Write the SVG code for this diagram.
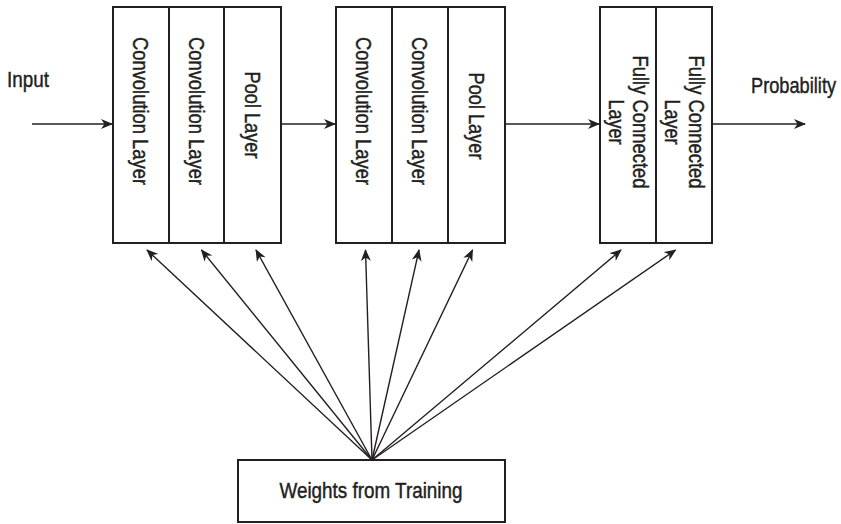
<svg xmlns="http://www.w3.org/2000/svg" width="841" height="524" viewBox="0 0 841 524">
  <style>
    .box { fill: #ffffff; stroke: #231f20; stroke-width: 2; }
    .div { stroke: #231f20; stroke-width: 2; }
    .lbl { font-family: "Liberation Sans Narrow", "Liberation Sans", Arial, sans-serif; font-size: 22.5px; fill: #231f20; stroke: #231f20; stroke-width: 0.45; }
    .mid { text-anchor: middle; }
    .edge { fill: none; stroke: #231f20; stroke-width: 1.4; marker-end: url(#arrow); }
  </style>
  <defs>
    <marker id="arrow" viewBox="0 0 12 10" refX="11" refY="5" markerWidth="12" markerHeight="10" markerUnits="userSpaceOnUse" orient="auto">
      <path d="M0,0 L12,5 L0,10 L3.5,5 z" fill="#231f20"/>
    </marker>
  </defs>

  <rect width="841" height="524" fill="#ffffff"/>

  <!-- free labels -->
  <g id="input-label">
    <text class="lbl" x="7" y="87" textLength="42" lengthAdjust="spacingAndGlyphs">Input</text>
  </g>
  <g id="output-label">
    <text class="lbl" transform="translate(751,93) scale(0.81,1)">Probability</text>
  </g>

  <!-- first convolution block -->
  <g id="block1">
    <rect class="box" x="113" y="7" width="168" height="236"/>
    <line class="div" x1="169" y1="7" x2="169" y2="243"/>
    <line class="div" x1="224" y1="7" x2="224" y2="243"/>
    <text class="lbl mid" transform="translate(133,111) rotate(90)" textLength="148" lengthAdjust="spacingAndGlyphs">Convolution Layer</text>
    <text class="lbl mid" transform="translate(189,111) rotate(90)" textLength="148" lengthAdjust="spacingAndGlyphs">Convolution Layer</text>
    <text class="lbl mid" transform="translate(245,115) rotate(90)" textLength="87" lengthAdjust="spacingAndGlyphs">Pool Layer</text>
  </g>

  <!-- second convolution block -->
  <g id="block2">
    <rect class="box" x="336" y="7" width="169" height="236"/>
    <line class="div" x1="392" y1="7" x2="392" y2="243"/>
    <line class="div" x1="448" y1="7" x2="448" y2="243"/>
    <text class="lbl mid" transform="translate(356,111) rotate(90)" textLength="148" lengthAdjust="spacingAndGlyphs">Convolution Layer</text>
    <text class="lbl mid" transform="translate(412,111) rotate(90)" textLength="148" lengthAdjust="spacingAndGlyphs">Convolution Layer</text>
    <text class="lbl mid" transform="translate(469,116) rotate(90)" textLength="87" lengthAdjust="spacingAndGlyphs">Pool Layer</text>
  </g>

  <!-- fully connected block -->
  <g id="block3">
    <rect class="box" x="600" y="7" width="112" height="236"/>
    <line class="div" x1="656" y1="7" x2="656" y2="243"/>
    <text class="lbl mid" transform="translate(633,122) rotate(90)" textLength="133" lengthAdjust="spacingAndGlyphs">Fully Connected</text>
    <text class="lbl mid" transform="translate(609,122) rotate(90)" textLength="45" lengthAdjust="spacingAndGlyphs">Layer</text>
    <text class="lbl mid" transform="translate(689,122) rotate(90)" textLength="133" lengthAdjust="spacingAndGlyphs">Fully Connected</text>
    <text class="lbl mid" transform="translate(665,122) rotate(90)" textLength="45" lengthAdjust="spacingAndGlyphs">Layer</text>
  </g>

  <!-- weights source -->
  <g id="weights">
    <rect class="box" x="238" y="460" width="267" height="62"/>
    <text class="lbl mid" x="371" y="498" textLength="183" lengthAdjust="spacingAndGlyphs">Weights from Training</text>
  </g>

  <!-- connectors -->
  <g id="connectors">
    <line class="edge" x1="32" y1="124" x2="112" y2="124"/>
    <line class="edge" x1="282" y1="124" x2="335" y2="124"/>
    <line class="edge" x1="506" y1="124" x2="599" y2="124"/>
    <line class="edge" x1="713" y1="124" x2="805" y2="124"/>

    <line class="edge" x1="372" y1="460" x2="147" y2="250"/>
    <line class="edge" x1="372" y1="460" x2="201.5" y2="250"/>
    <line class="edge" x1="372" y1="460" x2="256" y2="250"/>
    <line class="edge" x1="372" y1="460" x2="365.5" y2="250"/>
    <line class="edge" x1="372" y1="460" x2="419" y2="250"/>
    <line class="edge" x1="372" y1="460" x2="472.5" y2="250"/>
    <line class="edge" x1="372" y1="460" x2="621" y2="250"/>
    <line class="edge" x1="372" y1="460" x2="675.5" y2="250"/>
  </g>
</svg>
